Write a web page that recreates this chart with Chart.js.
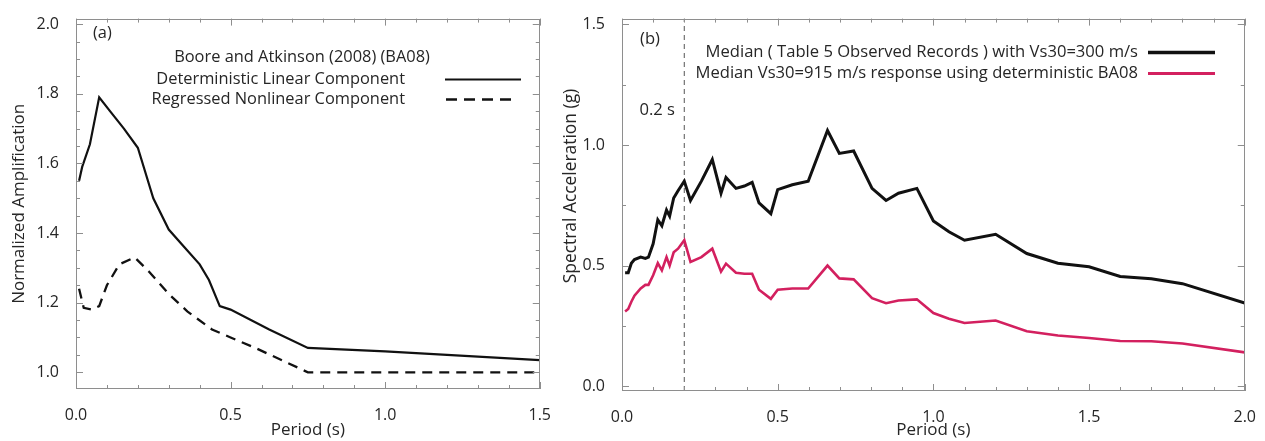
<!DOCTYPE html>
<html><head><meta charset="utf-8">
<script src="https://cdn.jsdelivr.net/npm/chart.js@4.4.1/dist/chart.umd.min.js"></script>
<style>
html,body{margin:0;padding:0;background:#fff;width:1265px;height:441px;overflow:hidden}
#wa{position:absolute;left:0;top:0;width:560px;height:441px}
#wb{position:absolute;left:560px;top:0;width:705px;height:441px}
canvas{display:block}
</style></head><body>
<div id="wa"><canvas id="ca" width="560" height="441"></canvas></div>
<div id="wb"><canvas id="cb" width="705" height="441"></canvas></div>
<script>
// ---------- Panel (a) data ----------
const periodsLinear = [0.01,0.02,0.045,0.075,0.11,0.155,0.2,0.25,0.3,0.35,0.4,0.43,0.465,0.5,0.625,0.75,1.0,1.5];
const ampLinear     = [1.55,1.59,1.655,1.79,1.75,1.70,1.645,1.50,1.41,1.36,1.31,1.265,1.19,1.18,1.123,1.07,1.06,1.035];
const periodsNonlinear = [0.01,0.025,0.05,0.075,0.1,0.14,0.19,0.235,0.3,0.36,0.44,0.5,0.58,0.67,0.75,1.5];
const ampNonlinear     = [1.24,1.185,1.18,1.19,1.25,1.31,1.33,1.29,1.225,1.175,1.123,1.10,1.07,1.033,1.0,1.0];

// ---------- Panel (b) data ----------
const periodsSA = [0.01,0.02,0.03,0.04,0.06,0.075,0.085,0.1,0.115,0.128,0.143,0.153,0.166,0.18,0.2,0.22,0.255,0.29,0.318,0.334,0.366,0.393,0.418,0.44,0.478,0.5,0.547,0.598,0.66,0.698,0.744,0.803,0.848,0.888,0.947,1.0,1.05,1.1,1.2,1.3,1.4,1.5,1.6,1.7,1.8,2.0];
const sa300 = [0.47,0.47,0.51,0.525,0.535,0.53,0.535,0.59,0.69,0.665,0.73,0.705,0.78,0.81,0.85,0.77,0.85,0.94,0.80,0.865,0.82,0.83,0.845,0.76,0.715,0.815,0.835,0.85,1.06,0.965,0.975,0.82,0.77,0.80,0.82,0.685,0.64,0.605,0.63,0.55,0.51,0.495,0.455,0.445,0.425,0.345];
const sa915 = [0.31,0.32,0.35,0.375,0.405,0.42,0.42,0.46,0.51,0.48,0.535,0.50,0.555,0.57,0.605,0.515,0.535,0.57,0.475,0.508,0.47,0.466,0.466,0.40,0.362,0.40,0.405,0.405,0.50,0.447,0.443,0.365,0.344,0.355,0.36,0.303,0.28,0.262,0.272,0.228,0.21,0.20,0.187,0.186,0.177,0.14];
const refPeriod = 0.2;

// ---------- Tick labels ----------
const leftXTicks  = [0,0.5,1.0,1.5];
const leftYTicks  = [1.0,1.2,1.4,1.6,1.8,2.0];
const rightXTicks = [0,0.5,1.0,1.5,2.0];
const rightYTicks = [0,0.5,1.0,1.5];

// ---------- Text ----------
const legendA = ['Boore and Atkinson (2008) (BA08)','Deterministic Linear Component','Regressed Nonlinear Component'];
const legendB = ['Median ( Table 5 Observed Records ) with Vs30=300 m/s','Median Vs30=915 m/s response using deterministic BA08'];

const F = '"Open Sans", "DejaVu Sans", sans-serif';
const TXT = '#262626';
const PINK = '#d3205f';

function pts(xs, ys){ return xs.map((p,i)=>({x:p,y:ys[i]})); }

function frameTicks(cfg){
  return {
    id:'frameTicks',
    afterDraw(chart){
      const {ctx, chartArea:a, scales:{x,y}} = chart;
      ctx.save();
      ctx.strokeStyle = '#8e8e8e'; ctx.lineWidth = 1;
      ctx.strokeRect(Math.round(a.left)+0.5, Math.round(a.top)+0.5, Math.round(a.right-a.left)-1, Math.round(a.bottom-a.top)-1);
      ctx.beginPath();
      const x0 = Math.ceil(x.min/cfg.xMinor-1e-9), x1 = Math.floor(x.max/cfg.xMinor+1e-9);
      for(let k=x0;k<=x1;k++){
        const v=k*cfg.xMinor; const r=v/cfg.xMajor; const major=Math.abs(r-Math.round(r))<1e-6;
        const L=major?7:4; const p=Math.round(x.getPixelForValue(v))+0.5;
        ctx.moveTo(p,a.bottom); ctx.lineTo(p,a.bottom-L);
        ctx.moveTo(p,a.top); ctx.lineTo(p,a.top+L);
      }
      const y0 = Math.ceil(y.min/cfg.yMinor-1e-9), y1 = Math.floor(y.max/cfg.yMinor+1e-9);
      for(let k=y0;k<=y1;k++){
        const v=k*cfg.yMinor; const r=v/cfg.yMajor; const major=Math.abs(r-Math.round(r))<1e-6;
        const L=major?7:4; const p=Math.round(y.getPixelForValue(v))+0.5;
        ctx.moveTo(a.left,p); ctx.lineTo(a.left+L,p);
        ctx.moveTo(a.right,p); ctx.lineTo(a.right-L,p);
      }
      ctx.stroke();
      ctx.restore();
    }
  };
}

function textPlugin(draw){
  return { id:'texts', afterDraw(chart){ const ctx=chart.ctx; ctx.save(); ctx.fillStyle=TXT; ctx.textBaseline='middle'; draw(ctx, chart); ctx.restore(); } };
}

function scaleOpts(o){
  return {
    type:'linear', min:o.min, max:o.max,
    afterFit: s => { if (o.w!==undefined) s.width=o.w; if (o.h!==undefined) s.height=o.h; },
    afterBuildTicks: s => { s.ticks = o.ticks.map(v=>({value:v})); },
    grid:{display:false}, border:{display:false},
    ticks:{font:{family:F,size:16}, color:TXT, padding:o.tp, maxRotation:0, autoSkip:false, callback:v=>Number(v).toFixed(1)},
    title:o.title ? {display:true, text:o.title, font:{family:F,size:17}, color:TXT, padding:o.titlePad} : {display:false}
  };
}

// ---------- Chart (a) ----------
new Chart(document.getElementById('ca'), {
  type:'line',
  data:{ datasets:[
    {data:pts(periodsLinear, ampLinear), borderColor:'#111', borderWidth:2.2, pointRadius:0, fill:false},
    {data:pts(periodsNonlinear, ampNonlinear), borderColor:'#111', borderWidth:2.3, borderDash:[10,7], pointRadius:0, fill:false}
  ]},
  options:{
    responsive:false, animation:false, devicePixelRatio:1,
    layout:{padding:{left:0, top:15, right:15, bottom:0}},
    plugins:{legend:{display:false}, tooltip:{enabled:false}},
    scales:{
      x: scaleOpts({min:0, max:1.5, ticks:leftXTicks, h:52, tp:9, title:'Period (s)', titlePad:{top:0,bottom:1}}),
      y: scaleOpts({min:0.952, max:2.016, ticks:leftYTicks, w:76, tp:9, title:'Normalized Amplification', titlePad:{top:9,bottom:0}})
    }
  },
  plugins:[frameTicks({xMinor:0.1, xMajor:0.5, yMinor:0.05, yMajor:0.2}), textPlugin((ctx)=>{
    ctx.font = '16.4px '+F;
    ctx.textAlign='left'; ctx.fillText('(a)', 93, 33);
    ctx.textAlign='center'; ctx.fillText(legendA[0], 302, 57);
    ctx.textAlign='right'; ctx.fillText(legendA[1], 405, 79); ctx.fillText(legendA[2], 405, 99);
    ctx.strokeStyle='#111'; ctx.lineWidth=2.2;
    ctx.beginPath(); ctx.moveTo(445,79.5); ctx.lineTo(521,79.5); ctx.stroke();
    ctx.setLineDash([11,7]); ctx.lineWidth=2.5;
    ctx.beginPath(); ctx.moveTo(446,99.5); ctx.lineTo(512,99.5); ctx.stroke();
  })]
});

// ---------- Chart (b) ----------
new Chart(document.getElementById('cb'), {
  type:'line',
  data:{ datasets:[
    {data:pts(periodsSA, sa300), borderColor:'#111', borderWidth:3, pointRadius:0, fill:false},
    {data:pts(periodsSA, sa915), borderColor:PINK, borderWidth:2.6, pointRadius:0, fill:false},
    {data:[{x:refPeriod,y:-0.02},{x:refPeriod,y:1.524}], borderColor:'#555', borderWidth:1, borderDash:[5,4], pointRadius:0, fill:false}
  ]},
  options:{
    responsive:false, animation:false, devicePixelRatio:1,
    layout:{padding:{left:0, top:18, right:17, bottom:0}},
    plugins:{legend:{display:false}, tooltip:{enabled:false}},
    scales:{
      x: scaleOpts({min:0, max:2.0, ticks:rightXTicks, h:50, tp:9, title:'Period (s)', titlePad:{top:0,bottom:1}}),
      y: scaleOpts({min:-0.02, max:1.524, ticks:rightYTicks, w:62, tp:9})
    }
  },
  plugins:[frameTicks({xMinor:0.1, xMajor:0.5, yMinor:0.25, yMajor:0.5}), textPlugin((ctx)=>{
    ctx.font = '16.6px '+F;
    ctx.textAlign='left'; ctx.fillText('(b)', 80, 39);
    ctx.textAlign='right'; ctx.fillText(legendB[0], 578, 52); ctx.fillText(legendB[1], 578, 73);
    ctx.fillText('0.2 s', 115, 110);
    ctx.lineWidth=3.5; ctx.strokeStyle='#111';
    ctx.beginPath(); ctx.moveTo(588,52.5); ctx.lineTo(655,52.5); ctx.stroke();
    ctx.lineWidth=3; ctx.strokeStyle=PINK;
    ctx.beginPath(); ctx.moveTo(588,73.5); ctx.lineTo(655,73.5); ctx.stroke();
    ctx.save(); ctx.translate(11,186); ctx.rotate(-Math.PI/2);
    ctx.font='17.4px '+F; ctx.textAlign='center'; ctx.fillStyle=TXT;
    ctx.fillText('Spectral Acceleration (g)', 0, 0);
    ctx.restore();
  })]
});
</script>
</body></html>
